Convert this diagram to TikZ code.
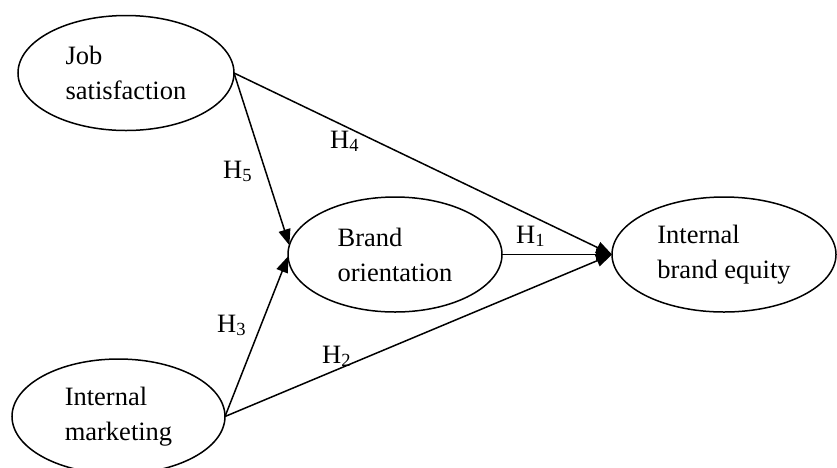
\documentclass[tikz,border=0pt]{standalone}
\usepackage{fontspec}
\setmainfont{Liberation Serif}
\usetikzlibrary{arrows.meta,shapes.geometric}
\begin{document}
\begin{tikzpicture}[x=1pt,y=-1pt,font=\fontsize{26.5}{35}\selectfont]
        \useasboundingbox (0,0) rectangle (837,467);
        \def \Nodes{ js/126/73/216/115/{Job\\satisfaction}, bo/395/254.5/214/115/{Brand\\orientation}, ibe/724/254.5/224/115/{Internal\\brand equity}, im/118.5/416.5/213/115/{Internal\\marketing}}
        \def \Edges{ js.east/bo.175, js.east/ibe.west, bo.east/ibe.west, im.east/bo.181, im.east/ibe.west}
        \def \Labels{ h1/1/516/243, h2/2/322/363, h3/3/217/332, h4/4/330/148, h5/5/223/178}
        \foreach \id / \x / \y / \w / \h / \t in \Nodes{
            \node[draw,ellipse,line width=1.5pt,inner sep=0pt,outer sep=0pt,minimum width=\w,minimum height=\h,align=left] (\id) at (\x, \y) {\t};
        }
        \foreach \x / \y in \Edges{
            \path[draw,-{Triangle[length=16pt,width=12pt]},line width=1.5pt] (\x) -- (\y);
        }
        \foreach \id / \n / \x / \y in \Labels{
            \node[anchor=base west,inner sep=0pt] (\id) at (\x, \y) {H\textsubscript{\n}};
        }
    \end{tikzpicture}
\end{document}
